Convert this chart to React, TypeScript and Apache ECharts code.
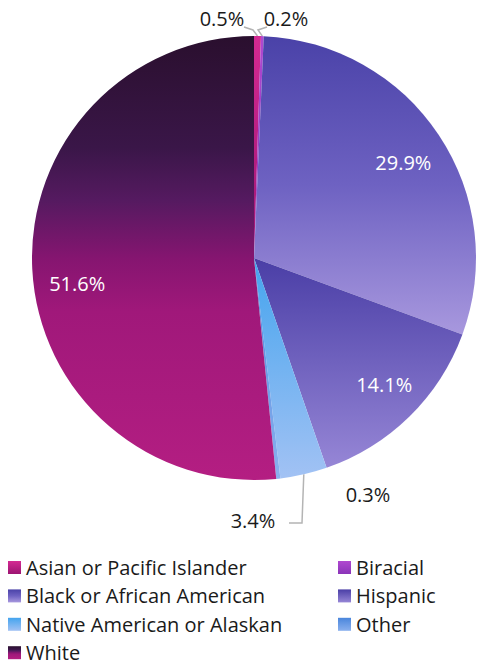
import React, { useEffect, useRef } from "react";
import * as echarts from "echarts";

const categories = [
  "Asian or Pacific Islander",
  "Biracial",
  "Black or African American",
  "Hispanic",
  "Native American or Alaskan",
  "Other",
  "White",
];
const values = [0.5, 0.2, 29.9, 14.1, 3.4, 0.3, 51.6];
const legendCol1 = ["Asian or Pacific Islander", "Black or African American", "Native American or Alaskan", "White"];
const legendCol2 = ["Biracial", "Hispanic", "Other"];

const grad = (stops: [number, string][]) =>
  new echarts.graphic.LinearGradient(0, 0, 0, 1, stops.map(([offset, color]) => ({ offset, color })));

const colors = [
  grad([[0, "#d42a92"], [1, "#9c1472"]]),
  grad([[0, "#b048d0"], [1, "#8a34b8"]]),
  grad([[0, "#4a42a8"], [0.5, "#6e62c2"], [1, "#a898de"]]),
  grad([[0, "#4a3ea6"], [1, "#9686d6"]]),
  grad([[0, "#44a4ee"], [1, "#a2c2f4"]]),
  grad([[0, "#4a86dc"], [1, "#8ab0ee"]]),
  grad([[0, "#2a0f2e"], [0.25, "#3a1648"], [0.37, "#551a60"], [0.5, "#851570"], [0.62, "#a0187a"], [1, "#b41e82"]]),
];

const inside = [false, false, true, true, false, false, true];
// nudges for inside labels (Excel placement)
const insideNudge: Record<number, [number, number]> = { 2: [-3, 6], 3: [2, -4], 6: [6, 16] };

// outside label placement (label centre, and leader line bend/end)
const outsideLayout: Record<number, { x: number; y: number; line?: number[][] }> = {
  0: { x: 222, y: 18, line: [[253, 30], [244, 27]] },
  1: { x: 286, y: 18, line: [[258, 30], [267, 27]] },
  4: { x: 253, y: 520, line: [[302, 523], [289, 523]] },
  5: { x: 368, y: 494 },
};

export default function App() {
  const ref = useRef<HTMLDivElement>(null);
  useEffect(() => {
    if (!ref.current) return;
    const chart = echarts.init(ref.current, null, { renderer: "svg" });
    const font = "'Open Sans', 'Liberation Sans', sans-serif";
    const center = [254, 258];
    const legendText = { fontSize: 20, color: "#1a1a1a", fontFamily: font, lineHeight: 21 };
    chart.setOption({
      animation: false,
      textStyle: { fontFamily: font },
      legend: [
        {
          data: legendCol1,
          orient: "vertical",
          left: 8,
          top: 557,
          padding: 0,
          itemWidth: 13,
          itemHeight: 13,
          itemGap: 7.4,
          icon: "rect",
          textStyle: legendText,
          selectedMode: false,
        },
        {
          data: legendCol2,
          orient: "vertical",
          left: 338,
          top: 557,
          padding: 0,
          itemWidth: 13,
          itemHeight: 13,
          itemGap: 7.4,
          icon: "rect",
          textStyle: legendText,
          selectedMode: false,
        },
      ],
      series: [
        {
          type: "pie",
          center,
          radius: [0, 222],
          startAngle: 90,
          clockwise: true,
          avoidLabelOverlap: false,
          itemStyle: { borderWidth: 0 },
          label: {
            show: true,
            position: "outside",
            formatter: (p: any) => (inside[p.dataIndex] ? "" : p.value.toFixed(1) + "%"),
            fontSize: 20,
            color: "#1a1a1a",
            fontFamily: font,
          },
          labelLine: { show: true, lineStyle: { color: "#b4b4b4", width: 1.5 }, length: 5, length2: 5 },
          labelLayout: (params: any) => {
            const o = outsideLayout[params.dataIndex];
            if (!o) return { x: -100, y: -100 };
            const start = params.labelLinePoints ? params.labelLinePoints[0] : null;
            const res: any = { x: o.x, y: o.y, align: "center", verticalAlign: "middle" };
            if (start && o.line) res.labelLinePoints = [start, ...o.line];
            else res.labelLinePoints = [[-10, -10], [-10, -10], [-10, -10]];
            return res;
          },
          data: categories.map((name, i) => ({
            name,
            value: values[i],
            itemStyle: { color: colors[i] },
            labelLine: { show: !!(outsideLayout[i] && outsideLayout[i].line) },
          })),
        },
        {
          type: "pie",
          center,
          radius: [0, 360],
          startAngle: 90,
          clockwise: true,
          silent: true,
          itemStyle: { color: "rgba(0,0,0,0)", borderWidth: 0 },
          label: {
            show: true,
            position: "inner",
            formatter: (p: any) => (inside[p.dataIndex] ? p.value.toFixed(1) + "%" : ""),
            fontSize: 20,
            color: "#ffffff",
            fontFamily: font,
          },
          labelLine: { show: false },
          labelLayout: (params: any) => {
            const n = insideNudge[params.dataIndex];
            return n ? { dx: n[0], dy: n[1] } : {};
          },
          data: categories.map((name, i) => ({ name, value: values[i] })),
        },
      ],
    });
    return () => chart.dispose();
  }, []);
  return <div ref={ref} style={{ position: "absolute", left: 0, top: 0, width: 477, height: 668 }} />;
}
